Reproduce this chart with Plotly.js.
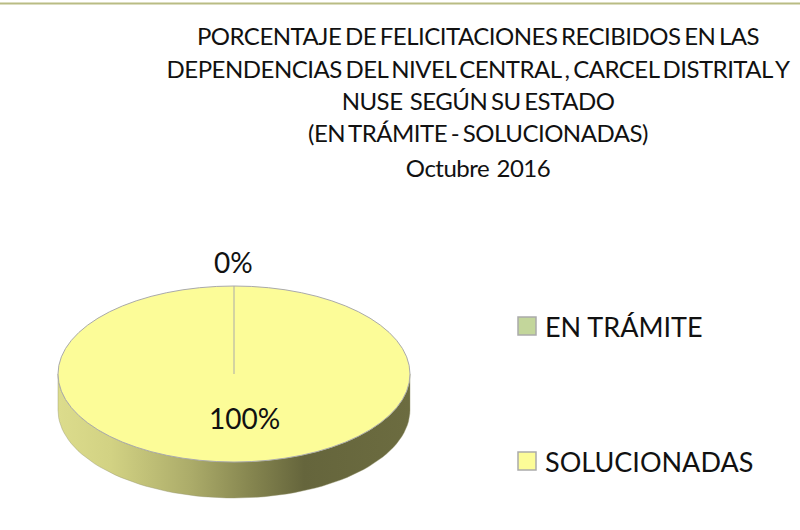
<!DOCTYPE html>
<html><head><meta charset="utf-8">
<script src="https://cdn.plot.ly/plotly-3.0.1.min.js"></script>
<style>html,body{margin:0;padding:0;background:#fff}#c{width:800px;height:530px}</style>
</head><body><div id="c"></div>
<script>
const categories = ['EN TRÁMITE', 'SOLUCIONADAS'];
const values = [0, 100];
const colors = ['#C3D69B', '#FCFC98'];
const titleLines = [
  'PORCENTAJE DE FELICITACIONES RECIBIDOS EN LAS',
  'DEPENDENCIAS DEL NIVEL CENTRAL , CARCEL DISTRITAL Y',
  'NUSE  SEGÚN SU ESTADO',
  '(EN TRÁMITE - SOLUCIONADAS)',
  'Octubre  2016'
];
const W = 800, H = 530;
const cx = 234, cy = 374, rx = 176, tilt = 0.5, depth = 36, c0 = 266;
const ry = rx * tilt;
const FONT = 'Lato, "Open Sans", sans-serif';
const total = values.reduce((a, b) => a + b, 0);
const pct = values.map(v => Math.round(v / total * 100) + '%');

// side wall of the disc: lower half of the ellipse, extruded downward
const wallX = [], wallY = [];
for (let i = 0; i <= 72; i++) { const a = Math.PI * i / 72; wallX.push(cx - rx * Math.cos(a)); wallY.push(cy + depth + ry * Math.sin(a)); }
for (let i = 72; i >= 0; i--) { const a = Math.PI * i / 72; wallX.push(cx - rx * Math.cos(a)); wallY.push(cy + ry * Math.sin(a)); }
wallX.push(wallX[0]); wallY.push(wallY[0]);

const traces = [
  { type: 'scatter', mode: 'lines', x: wallX, y: wallY, fill: 'toself', showlegend: false, hoverinfo: 'skip',
    line: { color: 'rgba(150,150,110,0.7)', width: 0.6 },
    fillgradient: { type: 'horizontal', colorscale: [[0, '#DCDC8C'], [0.15, '#D2D283'], [0.38, '#ABAB69'], [0.55, '#85854F'], [0.7, '#65653C'], [1, '#6C6C40']] } },
  { type: 'pie', labels: categories, values: values, sort: false, direction: 'clockwise', rotation: 0,
    textinfo: 'none', domain: { x: [(cx - rx) / W, (cx + rx) / W], y: [(H - c0 - rx) / H, (H - c0 + rx) / H] },
    marker: { colors: colors, line: { color: '#AAAAAA', width: 1 } } }
];
const layout = {
  width: W, height: H, margin: { l: 0, r: 0, t: 0, b: 0 }, paper_bgcolor: '#fff', plot_bgcolor: '#fff',
  xaxis: { range: [0, W], visible: false, fixedrange: true },
  yaxis: { range: [H, 0], visible: false, fixedrange: true },
  title: { text: titleLines.join('<br>'), x: 478 / W, xanchor: 'center', y: 1 - 20 / H, yanchor: 'top', font: { family: FONT, size: 24, color: '#111' } },
  legend: { x: 505 / W, y: 1 - 310 / H, xanchor: 'left', yanchor: 'top', font: { family: FONT, size: 27, color: '#111' }, bgcolor: 'rgba(0,0,0,0)', traceorder: 'normal' },
  shapes: [
    { type: 'line', xref: 'paper', yref: 'paper', x0: 0, x1: 1, y0: 1 - 3.5 / H, y1: 1 - 3.5 / H, line: { color: '#B9BC84', width: 2 } },
    { type: 'line', xref: 'x', yref: 'y', layer: 'above', x0: cx, x1: cx, y0: cy - ry, y1: cy, line: { color: '#AAAAAA', width: 1 } }
  ],
  annotations: [
    { xref: 'x', yref: 'y', x: 233, y: 262, text: pct[0], showarrow: false, font: { family: FONT, size: 28, color: '#111' } },
    { xref: 'x', yref: 'y', x: 244, y: 418, text: pct[1], showarrow: false, font: { family: FONT, size: 28, color: '#111' } }
  ]
};
Plotly.newPlot('c', traces, layout, { displayModeBar: false }).then(gd => {
  // flatten the pie into a disc
  const pl = gd.querySelector('.pielayer');
  pl.setAttribute('transform', `translate(0,${cy - c0 * tilt}) scale(1,${tilt})`);
  pl.querySelectorAll('path').forEach(p => p.style.vectorEffect = 'non-scaling-stroke');
  // title line spacing and tight tracking
  const tys = [45, 78, 110, 142, 177];
  const tt = gd.querySelector('.gtitle');
  tt.style.letterSpacing = '-0.5px';
  tt.style.wordSpacing = '-2px';
  const lines = tt.querySelectorAll('tspan.line');
  lines.forEach((t, i) => { t.setAttribute('dy', '0'); t.setAttribute('y', tys[i]); });
  // legend spacing and markers
  const leg = gd.querySelector('.legend');
  leg.querySelectorAll('[clip-path]').forEach(n => n.removeAttribute('clip-path'));
  const items = leg.querySelectorAll('.traces');
  leg.setAttribute('transform', 'translate(505,326)');
  const ys = [0, 135];
  items.forEach((it, i) => {
    it.setAttribute('transform', `translate(0,${ys[i]})`);
    const t = it.querySelector('text'); t.setAttribute('x', 40);
    t.querySelectorAll('tspan').forEach(s => s.setAttribute('x', 40));
    const lp = it.querySelector('.legendpoints');
    if (lp) lp.setAttribute('transform', 'translate(22,0)');
    it.querySelectorAll('.legendpie').forEach(p => { p.setAttribute('transform', 'scale(1.5)'); });
  });
  const bg = leg.querySelector('.bg'); if (bg) bg.style.display = 'none';
});
</script></body></html>
